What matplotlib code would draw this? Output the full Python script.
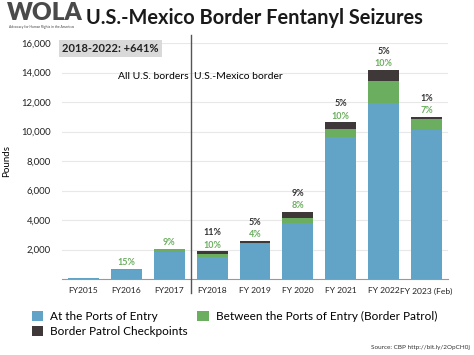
import numpy as np
import matplotlib.pyplot as plt

# values (pounds)
years = ["FY2015", "FY2016", "FY2017", "FY2018", "FY 2019", "FY 2020",
         "FY 2021", "FY 2022", "FY 2023 (Feb)"]
ports = [70, 580, 1850, 1490, 2370, 3770, 9650, 11950, 10100]
between = [0, 100, 180, 190, 100, 370, 500, 1490, 770]
checkpoints = [0, 0, 0, 200, 130, 400, 470, 725, 135]
green_pct = ["", "15%", "9%", "10%", "4%", "8%", "10%", "10%", "7%"]
dark_pct = ["", "", "", "11%", "5%", "9%", "5%", "5%", "1%"]
yticks = [2000, 4000, 6000, 8000, 10000, 12000, 14000, 16000]

c_blue = "#62a3c8"
c_green = "#6cae60"
c_dark = "#3f3839"

plt.rcParams['font.family'] = ['Lato', 'DejaVu Sans']

fig = plt.figure(figsize=(4.74, 3.55), dpi=100)
ax = fig.add_axes([62 / 474, 76 / 355, 386 / 474, 236 / 355])

x = np.arange(len(years))
w = 0.72
ports = np.array(ports)
between = np.array(between)
checkpoints = np.array(checkpoints)
b1 = ax.bar(x, ports, w, color=c_blue, zorder=3)
b2 = ax.bar(x, between, w, bottom=ports, color=c_green, zorder=3)
b3 = ax.bar(x, checkpoints, w, bottom=ports + between, color=c_dark, zorder=3)

tops = ports + between + checkpoints
for i in range(len(x)):
    if green_pct[i]:
        ax.annotate(green_pct[i], (x[i], tops[i]), xytext=(0, 4.5),
                    textcoords="offset points", ha="center", va="center",
                    fontsize=6.5, fontweight="bold", color=c_green)
    if dark_pct[i]:
        ax.annotate(dark_pct[i], (x[i], tops[i]), xytext=(0, 13.3),
                    textcoords="offset points", ha="center", va="center",
                    fontsize=6.5, fontweight="bold", color="#333333")

ax.set_xlim(-0.5, 8.5)
ax.set_ylim(0, 16000)
ax.set_yticks(yticks)
ax.set_yticklabels(["{:,}".format(v) for v in yticks])
ax.set_xticks(x)
ax.set_xticklabels(years)
ax.tick_params(axis="both", length=0, labelsize=6.8, colors="#222222")
ax.tick_params(axis="x", pad=6, labelsize=6.1)
ax.tick_params(axis="y", pad=8)
ax.grid(axis="y", color="#e8e8e8", linewidth=0.8, zorder=0)
for s in ["top", "right", "left"]:
    ax.spines[s].set_visible(False)
ax.spines["bottom"].set_color("#999999")
ax.set_ylabel("Pounds", fontsize=7, labelpad=7)

# divider between all borders and Mexico border
ax.plot([2.5, 2.5], [-0.06, 1.035], transform=ax.get_xaxis_transform(),
        color="#555555", linewidth=1.0, clip_on=False, zorder=4)
ax.text(2.45, 13700, "All U.S. borders", ha="right", va="center", fontsize=7.5)
ax.text(2.57, 13700, "U.S.-Mexico border", ha="left", va="center", fontsize=7.5)
ax.text(0.0, 1.0, "2018-2022: +641%", transform=ax.transAxes, ha="left",
        va="top", fontsize=8, fontweight="bold", color="#222222",
        bbox=dict(boxstyle="square,pad=0.3", fc="#d9d9d9", ec="none"))

# title and logo
fig.text(86 / 474, 1 - 18 / 355, "U.S.-Mexico Border Fentanyl Seizures",
         ha="left", va="center", fontsize=14.4, fontweight="bold", color="#1a1a1a")
fig.text(7 / 474, 1 - 13 / 355, "WOLA", ha="left", va="center",
         fontsize=17.5, fontweight="heavy", color="#4a4a4a")
fig.text(9 / 474, 1 - 27 / 355, "Advocacy for Human Rights in the Americas",
         ha="left", va="center", fontsize=2.4, color="#444444")

# legend (column-major order gives rows: ports | between, checkpoints)
fig.legend([b1, b3, b2],
           ["At the Ports of Entry", "Border Patrol Checkpoints",
            "Between the Ports of Entry (Border Patrol)"],
           loc="upper left", bbox_to_anchor=(32 / 474, 1 - 311 / 355),
           ncol=2, frameon=False, fontsize=8.5, handlelength=0.95,
           handleheight=0.95, handletextpad=0.6, columnspacing=0.8,
           labelspacing=0.35, borderaxespad=0, borderpad=0)

fig.text(1 - 4 / 474, 1 - 348 / 355, "Source: CBP http://bit.ly/2OpCH0j",
         ha="right", va="center", fontsize=4.6, color="#333333")

fig.savefig("out.png", dpi=100)
